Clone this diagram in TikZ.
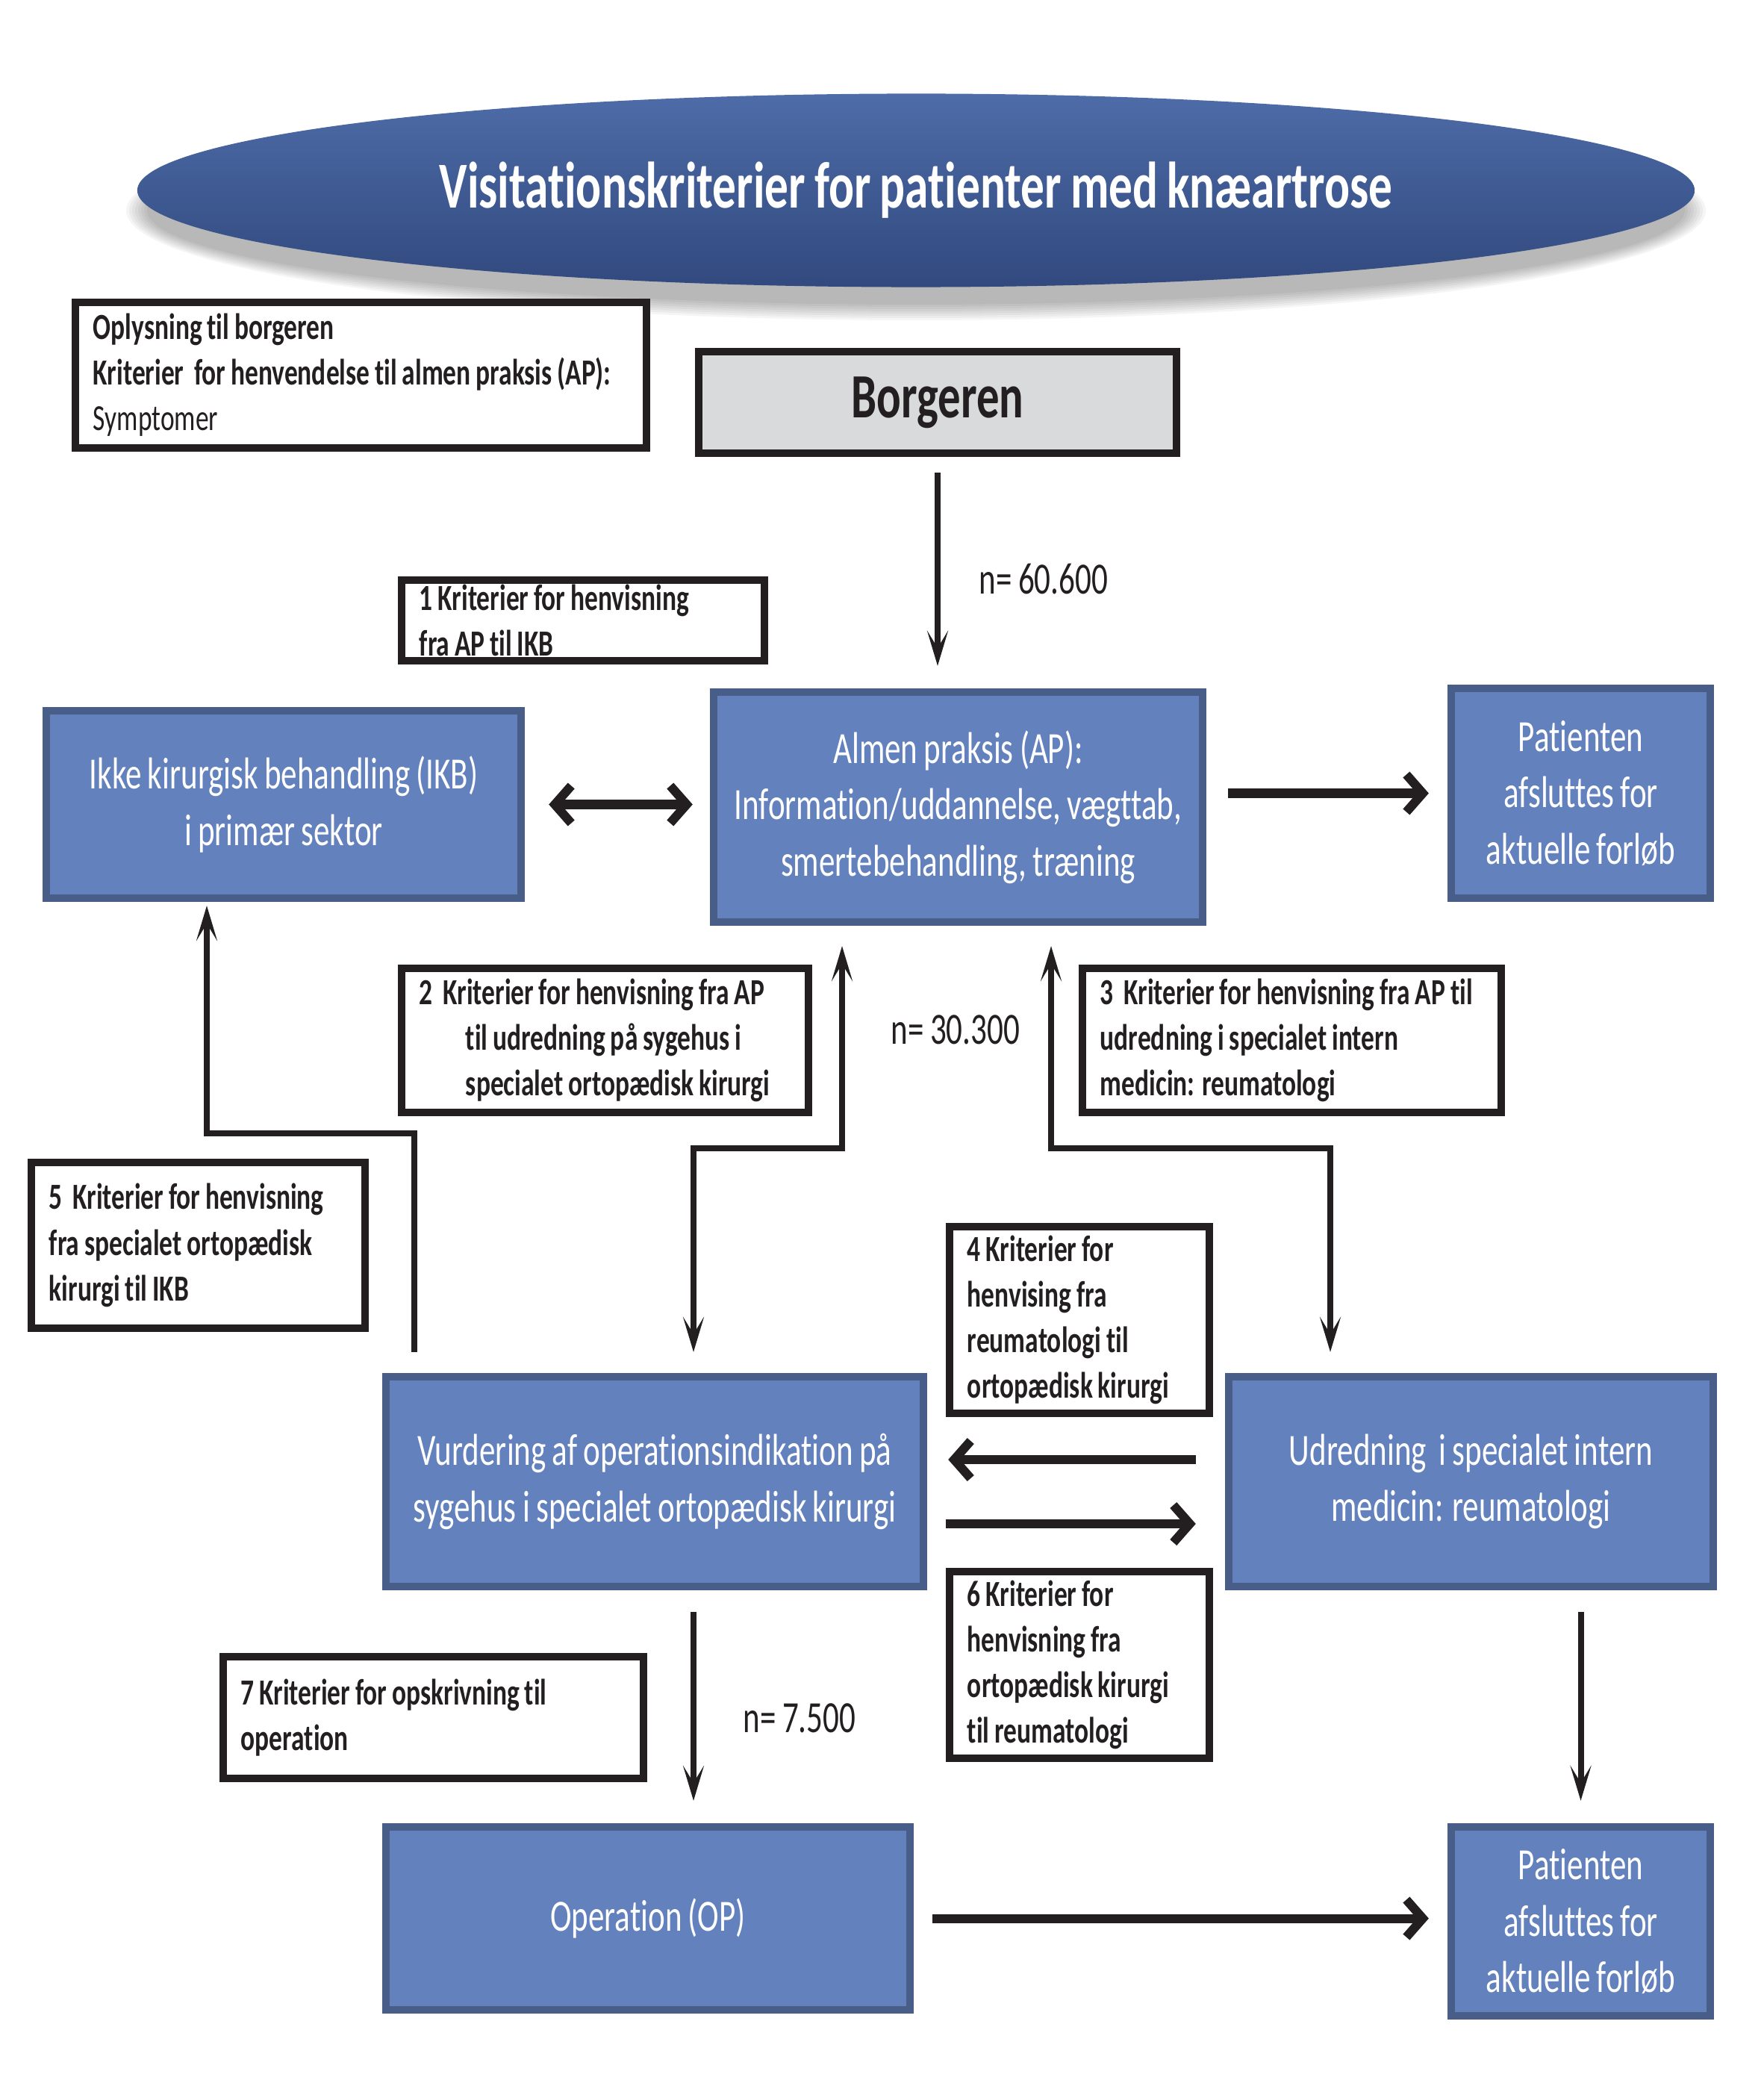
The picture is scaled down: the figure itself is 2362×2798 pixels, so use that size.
\documentclass[tikz,border=0pt]{standalone}
\usepackage{fontspec}
\setmainfont{Carlito}[FakeStretch=0.72, WordSpace=0.85, Ligatures=NoCommon]
\usetikzlibrary{shapes.geometric,arrows.meta}
\definecolor{bfill}{HTML}{6281BD}
\definecolor{bbdr}{HTML}{495D89}
\definecolor{dk}{HTML}{231F20}
\definecolor{borg}{HTML}{D9DADB}
\definecolor{etop}{HTML}{4E6CA8}
\definecolor{emid}{HTML}{3A568E}
\definecolor{ebot}{HTML}{31497E}
\begin{document}
\begin{tikzpicture}[x=0.01cm,y=-0.01cm,
  blue/.style={draw=bbdr, fill=bfill, line width=0.1cm, text=white, align=center, inner sep=0pt, font=\fontsize{17}{21.5}\selectfont},
  crit/.style={draw=dk, fill=white, line width=0.1cm, text=dk, align=flush left, inner xsep=0.24cm, inner ysep=0pt, font=\bfseries\fontsize{14}{17.4}\selectfont},
  nlab/.style={text=dk, font=\fontsize{17}{21}\selectfont, anchor=west, inner sep=0pt},
  varrow/.style={draw=dk, line width=0.08cm, -{Stealth[length=0.47cm,width=0.28cm,inset=0.23cm]}},
  vdarrow/.style={draw=dk, line width=0.08cm, {Stealth[length=0.47cm,width=0.28cm,inset=0.23cm]}-{Stealth[length=0.47cm,width=0.28cm,inset=0.23cm]}},
  harrow/.style={draw=dk, line width=0.12cm, -{Straight Barb[length=0.22cm,width=0.5cm]}},
  hdarrow/.style={draw=dk, line width=0.12cm, {Straight Barb[length=0.22cm,width=0.5cm]}-{Straight Barb[length=0.22cm,width=0.5cm]}},
]
\useasboundingbox (0,0) rectangle (2362,2798);
% title shadow
\foreach \i in {0,...,7}{
  \fill[black, opacity=0.04] (1227,282) ellipse [x radius={(1030+\i*4)*0.01cm}, y radius={(126+\i*3)*0.01cm}];
}
\node[ellipse, minimum width=20.85cm, minimum height=2.59cm, top color=etop, middle color=emid, bottom color=ebot, text=white, font=\bfseries\fontsize{25}{30}\selectfont, inner sep=0pt] (title) at (1227,255) {Visitationskriterier for patienter med knæartrose};

\node[crit, text width=7.17cm, minimum height=1.95cm] (info) at (483.5,502.5) {Oplysning til borgeren\\Kriterier\ \ for henvendelse til almen praksis (AP):\\{\mdseries Symptomer}};
\node[draw=dk, fill=borg, line width=0.1cm, minimum width=6.40cm, minimum height=1.36cm, font=\bfseries\fontsize{24}{28}\selectfont, text=dk, inner sep=0pt] (borg) at (1256,539) {Borgeren};

\node[crit, text width=4.38cm, minimum height=1.08cm] (k1) at (781,831) {1 Kriterier for henvisning\\fra AP til IKB};
\node[crit, text width=4.97cm, minimum height=1.93cm] (k2) at (810.5,1393.5) {2\ \ Kriterier for henvisning fra AP\\\hspace*{0.62cm}til udredning på sygehus i\\\hspace*{0.62cm}specialet ortopædisk kirurgi};
\node[crit, text width=5.13cm, minimum height=1.93cm] (k3) at (1730.5,1393.5) {3\ \ Kriterier for henvisning fra AP til\\udredning i specialet intern\\medicin: reumatologi};
\node[crit, text width=3.99cm, minimum height=2.22cm] (k5) at (265.5,1668) {5\ \ Kriterier for henvisning\\fra specialet ortopædisk\\kirurgi til IKB};
\node[crit, text width=3.00cm, minimum height=2.50cm] (k4) at (1446,1768) {4 Kriterier for\\henvising fra\\reumatologi til\\ortopædisk kirurgi};
\node[crit, text width=3.00cm, minimum height=2.50cm] (k6) at (1446,2230) {6 Kriterier for\\henvisning fra\\ortopædisk kirurgi\\til reumatologi};
\node[crit, text width=5.15cm, minimum height=1.63cm] (k7) at (580.5,2300.5) {7 Kriterier for opskrivning til\\operation};

\node[blue, minimum width=6.36cm, minimum height=2.51cm] (ikb) at (380,1077.5) {Ikke kirurgisk behandling (IKB)\\i primær sektor};
\node[blue, minimum width=6.55cm, minimum height=3.08cm] (ap) at (1283.5,1081) {Almen praksis (AP):\\Information/uddannelse, vægttab,\\smertebehandling, træning};
\node[blue, minimum width=3.47cm, minimum height=2.81cm] (pat1) at (2117.5,1062.5) {Patienten\\afsluttes for\\aktuelle forløb};
\node[blue, minimum width=7.20cm, minimum height=2.81cm] (vur) at (877,1984.5) {Vurdering af operationsindikation på\\sygehus i specialet ortopædisk kirurgi};
\node[blue, minimum width=6.49cm, minimum height=2.81cm] (udr) at (1970.5,1984.5) {Udredning\ \ i specialet intern\\medicin: reumatologi};
\node[blue, minimum width=7.02cm, minimum height=2.45cm] (op) at (868,2569.5) {Operation (OP)};
\node[blue, minimum width=3.47cm, minimum height=2.53cm] (pat2) at (2117.5,2573.5) {Patienten\\afsluttes for\\aktuelle forløb};

\node[nlab] (n1) at (1311,776) {n= 60.600};
\node[nlab] (n2) at (1193,1379) {n= 30.300};
\node[nlab] (n3) at (995,2301) {n= 7.500};

\coordinate (c5a) at (555,1518);
\coordinate (c5b) at (277,1518);
\coordinate (c2a) at (929,1538);
\coordinate (c2b) at (1128,1538);
\coordinate (c3a) at (1408,1538);
\coordinate (c3b) at (1782,1538);
\coordinate (y4) at (0,1955);
\coordinate (y6) at (0,2041);

\draw[varrow, shorten <=0.21cm, shorten >=0.30cm] (borg.south) -- (borg.south |- ap.north);
\draw[hdarrow, shorten <=0.32cm, shorten >=0.23cm] (ikb.east) -- (ikb.east -| ap.west);
\draw[harrow, shorten <=0.29cm, shorten >=0.25cm] (ap.east |- pat1.west) -- (pat1.west);
\draw[varrow, shorten <=0.28cm, shorten >=0.05cm] (vur.north -| c5a) -- (c5a) -- (c5b) -- (ikb.south -| c5b);
\draw[vdarrow, shorten <=0.27cm, shorten >=0.28cm] (ap.south -| c2b) -- (c2b) -- (c2a) -- (vur.north -| c2a);
\draw[vdarrow, shorten <=0.27cm, shorten >=0.28cm] (ap.south -| c3a) -- (c3a) -- (c3b) -- (udr.north -| c3b);
\draw[harrow, shorten <=0.39cm, shorten >=0.28cm] (udr.west |- y4) -- (vur.east |- y4);
\draw[harrow, shorten <=0.25cm, shorten >=0.39cm] (vur.east |- y6) -- (udr.west |- y6);
\draw[varrow, shorten <=0.29cm, shorten >=0.30cm] (vur.south -| c2a) -- (op.north -| c2a);
\draw[varrow, shorten <=0.29cm, shorten >=0.30cm] (pat2.north |- udr.south) -- (pat2.north);
\draw[harrow, shorten <=0.25cm, shorten >=0.25cm] (op.east) -- (op.east -| pat2.west);
\end{tikzpicture}
\end{document}
